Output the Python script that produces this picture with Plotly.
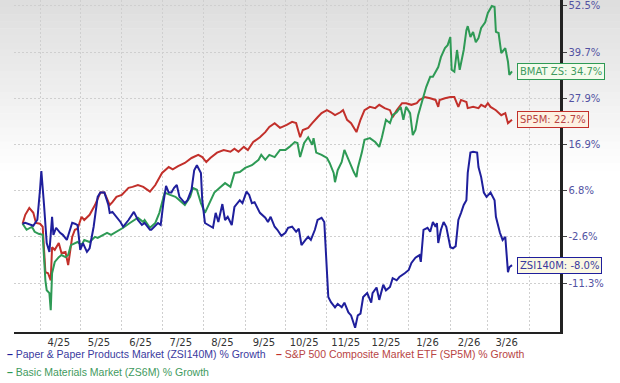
import numpy as np
import pandas as pd
import plotly.graph_objects as go

# ---------------- data ----------------
START = "2025-03-19"

zsi_days = [0, 2, 8, 11, 13, 14, 16, 18, 20, 22, 23, 25, 28, 30, 33, 35, 37, 39, 41, 43, 45, 48, 50, 53, 56, 58,
            61, 64, 65, 67, 70, 73, 75, 79, 83, 86, 89, 91, 95, 96, 101, 103, 105, 107, 109, 111, 113, 115, 117,
            121, 123, 126, 128, 130, 133, 134, 136, 140, 142, 144, 146, 149, 151, 153, 156, 158, 162, 164, 167,
            169, 171, 173, 177, 181, 183, 185, 188, 190, 193, 196, 198, 201, 204, 206, 208, 211, 213, 215, 218,
            220, 223, 225, 227, 228, 230, 233, 235, 238, 240, 243, 245, 248, 250, 252, 254, 257, 260, 261, 264,
            266, 269, 271, 274, 276, 279, 281, 285, 288, 290, 293, 296, 297, 299, 302, 304, 306, 308, 309, 310,
            312, 314, 316, 319, 321, 323, 325, 327, 329, 331, 332, 334, 336, 339, 340, 342, 344, 346, 349, 352,
            353, 356, 358, 360, 362, 363, 365]
zsi_growth = [0.0, 0.2, -0.4, 0.8, 7.0, 11.0, 3.8, -3.8, -5.5, 1.4, -2.2, -0.8, -1.8, -2.2, -3.2, -1.6, 0.2, 0.0,
              -0.3, -5.1, -3.8, -5.5, -4.8, -0.6, 5.5, 6.4, 6.4, 3.8, 2.2, 2.4, 1.4, 0.35, -0.6, 0.75, 2.4, 0.75,
              -0.25, 0.15, -1.2, -1.2, 0.15, -0.25, 4.2, 7.8, 6.4, 6.4, 7.4, 8.0, 5.5, 4.2, 4.8, 7.0, 11.2, 12.3,
              10.6, 4.8, 0.15, -0.6, -0.8, 2.2, 0.35, 4.0, 0.75, 1.4, -0.25, 3.4, 4.8, 4.2, 6.6, 5.9, 4.2, 4.4,
              2.2, 1.2, 0.35, 1.4, -0.6, -1.2, -2.4, -1.8, -0.8, -0.6, -1.6, -1.0, -4.2, -3.2, -2.6, -3.2, -1.2,
              0.75, 1.2, 0.35, -9.5, -13.8, -14.7, -15.6, -15.0, -15.6, -14.8, -16.5, -17.0, -19.1, -17.0, -16.7,
              -13.8, -13.1, -14.8, -13.1, -12.1, -14.3, -11.6, -12.6, -12.0, -10.4, -10.8, -10.2, -9.5, -8.9,
              -7.6, -6.6, -6.1, -7.4, -1.2, -0.8, -1.6, 0.35, -0.6, 0.15, -3.8, -1.2, 0.35, -0.6, -4.6, -4.8,
              -4.4, 0.75, 2.2, 3.8, 4.8, 10.6, 15.1, 15.3, 15.1, 11.9, 9.7, 6.4, 5.5, 6.4, 4.8, 1.4, -1.8, -3.2,
              -2.6, -9.3, -8.4, -8.0]

sp5m_days = [0, 2, 5, 8, 10, 13, 15, 17, 19, 21, 22, 24, 27, 29, 32, 34, 37, 39, 41, 44, 46, 50, 54, 58, 61, 65,
             67, 70, 74, 79, 82, 86, 90, 91, 95, 99, 104, 109, 112, 116, 121, 126, 131, 134, 137, 140, 145, 150,
             155, 158, 161, 165, 168, 172, 177, 181, 184, 188, 192, 197, 201, 204, 207, 209, 213, 216, 218, 220,
             223, 227, 230, 233, 237, 239, 242, 245, 249, 252, 255, 259, 263, 266, 270, 274, 276, 279, 283, 286,
             290, 294, 296, 300, 304, 308, 310, 311, 315, 319, 322, 325, 327, 331, 332, 336, 340, 342, 345, 347,
             349, 353, 357, 360, 362, 365]
sp5m_growth = [0.0, 1.8, 3.2, 2.2, 0.15, 0.0, -0.6, -9.3, -9.5, -10.8, -4.6, -5.1, -3.8, -5.7, -5.5, -8.0, -2.6,
               -1.2, -1.0, 1.4, 0.75, 1.8, 3.8, 6.4, 6.4, 3.8, 4.4, 5.5, 5.9, 7.4, 7.6, 8.0, 7.6, 7.4, 6.6, 8.0,
               10.6, 11.9, 11.4, 12.1, 12.8, 13.9, 14.6, 14.1, 13.0, 13.9, 15.1, 15.7, 15.3, 16.0, 15.3, 16.4,
               15.7, 17.5, 18.6, 19.8, 21.0, 21.9, 20.8, 21.5, 22.2, 21.9, 18.6, 20.3, 20.8, 21.9, 22.7, 23.3,
               24.3, 25.0, 24.5, 23.8, 24.5, 25.0, 22.7, 21.9, 19.8, 22.7, 25.0, 25.8, 25.5, 26.3, 25.5, 25.0,
               23.3, 25.0, 26.7, 26.7, 26.3, 26.7, 27.5, 28.2, 27.9, 27.5, 25.8, 27.5, 27.9, 28.2, 28.2, 25.8,
               27.5, 27.0, 25.5, 25.8, 25.5, 26.3, 25.8, 26.7, 25.8, 25.0, 23.8, 24.3, 21.9, 22.7]

zs6m_days = [0, 3, 7, 9, 12, 15, 17, 18, 20, 21, 22, 24, 27, 29, 32, 34, 36, 39, 41, 44, 46, 50, 54, 56, 60, 63,
             66, 70, 75, 80, 84, 86, 90, 91, 95, 99, 102, 106, 110, 114, 117, 121, 125, 127, 130, 133, 136, 140,
             143, 147, 151, 155, 158, 162, 166, 171, 176, 178, 181, 184, 188, 192, 196, 199, 203, 205, 207, 210,
             213, 216, 217, 219, 223, 227, 229, 232, 233, 235, 238, 240, 243, 245, 247, 249, 250, 253, 255, 259,
             263, 266, 268, 271, 274, 276, 279, 282, 284, 286, 289, 291, 293, 295, 298, 301, 304, 306, 310, 312,
             315, 317, 319, 320, 322, 324, 326, 329, 331, 332, 334, 336, 338, 340, 342, 345, 347, 350, 352, 353,
             355, 357, 360, 362, 363, 365]
zs6m_growth = [0.0, -1.2, -0.6, -1.6, -2.0, -2.2, -10.8, -12.6, -13.1, -16.1, -9.5, -7.4, -6.5, -6.1, -6.5, -6.1,
               -4.2, -3.8, -3.6, -4.2, -3.2, -3.6, -2.6, -2.8, -2.2, -1.8, -2.2, -1.6, -0.8, 0.15, 0.75, 1.2, 0.35,
               0.75, -0.8, 0.15, 2.2, 6.4, 5.9, 5.5, 4.8, 3.8, 5.5, 7.4, 7.0, 4.2, 2.2, 4.8, 6.4, 7.4, 8.4, 7.6,
               10.6, 10.8, 11.7, 12.3, 13.5, 14.6, 13.5, 14.6, 14.1, 15.7, 15.7, 16.4, 17.5, 17.3, 14.1, 17.3,
               18.6, 16.9, 18.4, 15.1, 14.6, 13.9, 12.8, 10.6, 8.6, 11.2, 13.0, 15.7, 13.5, 11.9, 10.8, 9.7, 11.7,
               15.1, 18.0, 18.4, 17.5, 16.4, 18.6, 22.7, 21.9, 23.8, 24.5, 25.8, 22.7, 25.8, 24.3, 19.1, 20.3,
               23.8, 27.5, 30.7, 33.3, 33.3, 35.8, 38.4, 40.8, 41.6, 43.8, 35.1, 34.6, 40.3, 35.1, 40.3, 45.7,
               46.8, 43.8, 45.2, 42.4, 43.5, 46.3, 47.9, 50.5, 52.5, 52.2, 45.2, 44.9, 39.5, 40.8, 37.2, 33.8,
               34.7]

series_names = ["Paper & Paper Products Market (ZSI140M) % Growth",
                "S&P 500 Composite Market ETF (SP5M) % Growth",
                "Basic Materials Market (ZS6M) % Growth"]
end_label_names = ["ZSI140M", "SP5M", "BMAT ZS"]

y_tick_pct = [52.5, 39.7, 27.9, 16.9, 6.8, -2.6, -11.3]
month_labels = ["4/25", "5/25", "6/25", "7/25", "8/25", "9/25", "10/25",
                "11/25", "12/25", "1/26", "2/26", "3/26"]

# ---------------- styling ----------------
LOG_OFFSET = 120.0          # chart scale: log of (growth% + 120)
line_colors = ["#1f1f9c", "#c2302b", "#2e9a55"]
text_colors = ["#3a3a9e", "#b84444", "#3f9a5e"]
box_fill = ["#fbf8e2", "#fdf1e2", "#f4fbec"]
grid_col = "#cfcfcf"
font_main = "DejaVu Sans, Verdana, sans-serif"
font_legend = "Liberation Sans, Arial, sans-serif"

W, H = 620, 383
ML, MR, MT, MB = 14, 60, 0, 51

start = pd.Timestamp(START)
def to_dates(days):
    return start + pd.to_timedelta(np.array(days), unit="D")

all_days = [zsi_days, sp5m_days, zs6m_days]
all_vals = [zsi_growth, sp5m_growth, zs6m_growth]

fig = go.Figure()
# draw order: red, green, blue on top as in the reference
for i in [1, 2, 0]:
    fig.add_trace(go.Scatter(
        x=to_dates(all_days[i]),
        y=np.array(all_vals[i]) + LOG_OFFSET,
        mode="lines",
        line=dict(color=line_colors[i], width=2),
        name=series_names[i],
        showlegend=False,
        hoverinfo="skip",
    ))

# end-of-line callout labels (log axis -> annotation y in log10 units)
for i in range(3):
    last_d = to_dates(all_days[i])[-1]
    last_v = all_vals[i][-1]
    fig.add_annotation(
        x=last_d, y=np.log10(last_v + LOG_OFFSET), xref="x", yref="y",
        text=f"{end_label_names[i]}: {last_v:.1f}%",
        showarrow=False, xanchor="left", yanchor="middle", xshift=5,
        font=dict(family=font_main, size=10, color=text_colors[i]),
        bgcolor=box_fill[i], bordercolor=line_colors[i], borderwidth=1, borderpad=2,
    )

# legend drawn as text rows under the axis
plot_w = W - ML - MR
plot_h = H - MT - MB
def px_x(p):
    return (p - ML) / plot_w
def px_y(p):
    return (H - MB - p) / plot_h

legend_pos = [(5, 354), (274, 354), (5, 372)]
for i in range(3):
    fig.add_annotation(
        x=px_x(legend_pos[i][0]), y=px_y(legend_pos[i][1]), xref="paper", yref="paper",
        text=f"<span style='color:{line_colors[i]}'><b>–</b></span> {series_names[i]}",
        showarrow=False, xanchor="left", yanchor="middle",
        font=dict(family=font_legend, size=10.5, color=text_colors[i]),
    )

# light grey gradient at the top of the chart
n_bands = 24
band_h = 170 / n_bands
for b in range(n_bands):
    t = b / n_bands
    c = int(round(222 + (255 - 222) * t))
    fig.add_shape(
        type="rect", xref="paper", yref="paper", layer="below",
        x0=px_x(0), x1=px_x(W),
        y0=px_y(b * band_h + band_h + 0.5), y1=px_y(b * band_h),
        line=dict(width=0), fillcolor=f"rgb({c},{c},{c})",
    )

month_starts = pd.date_range("2025-04-01", periods=13, freq="MS")
mid_month = pd.date_range("2025-04-01", periods=12, freq="MS") + pd.Timedelta(days=14)

x_left = pd.Timestamp("2025-04-01") - pd.Timedelta(hours=19.4 * 24)
x_right = pd.Timestamp("2025-04-01") + pd.Timedelta(hours=387.8 * 24)

fig.update_layout(
    width=W, height=H,
    margin=dict(l=ML, r=MR, t=MT, b=MB),
    paper_bgcolor="white",
    plot_bgcolor="rgba(0,0,0,0)",
    showlegend=False,
    xaxis=dict(
        type="date",
        range=[x_left, x_right],
        tickmode="array", tickvals=mid_month, ticktext=month_labels,
        ticks="", showgrid=False,
        tickfont=dict(family=font_main, size=10, color="#333333"),
        showline=True, linecolor="#222222", linewidth=2,
        zeroline=False,
        minor=dict(tickmode="array", tickvals=month_starts, showgrid=True,
                   gridcolor=grid_col, griddash="2px,2px", gridwidth=1, ticks=""),
    ),
    yaxis=dict(
        type="log", side="right",
        range=[np.log10(100.19), np.log10(174.23)],
        tickmode="array",
        tickvals=[v + LOG_OFFSET for v in y_tick_pct],
        ticktext=[f"{v:.1f}%" for v in y_tick_pct],
        tickfont=dict(family=font_main, size=10, color="#5252a2"),
        showgrid=True, gridcolor=grid_col, griddash="2px,2px", gridwidth=1,
        showline=True, linecolor="#222222", linewidth=2.5,
        ticks="outside", ticklen=4, tickcolor="#444444", tickwidth=1,
        zeroline=False,
    ),
)

fig.write_html("out.html",
               config={"displayModeBar": False, "staticPlot": True},
               post_script="document.body.style.margin='0';document.body.style.overflow='hidden';")
